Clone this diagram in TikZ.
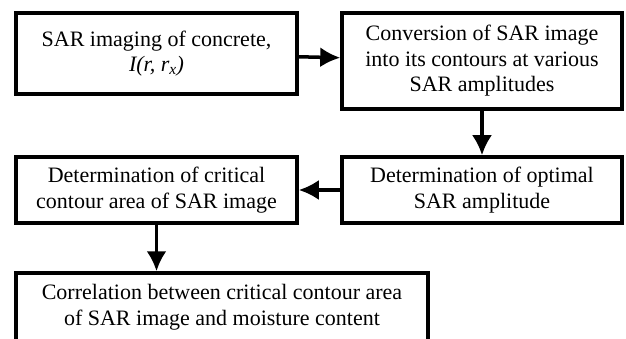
\documentclass[tikz,border=0pt]{standalone}
\usepackage{fontspec}
\setmainfont{Liberation Serif}
\usetikzlibrary{arrows.meta}

\tikzset{
  stagebox/.style={draw, line width=3.5pt, inner sep=0pt, align=center,
    font=\fontsize{22}{25.5}\selectfont},
  flowarrow/.style={-{Latex[length=20pt, width=20pt]}, line width=3.5pt}
}

\begin{document}
\begin{tikzpicture}[x=1pt, y=-1pt, >=Latex]
    \useasboundingbox (0,0) rectangle (626,339);
    % top row
    \node[stagebox, minimum width=281pt, minimum height=81pt] (imaging) at (156.5, 53.5)
      {SAR imaging of concrete,\\ \textit{I(r, r\textsubscript{x})}};
    \node[stagebox, minimum width=280pt, minimum height=96pt] (contours) at (482, 61)
      {Conversion of SAR image\\ into its contours at various\\ SAR amplitudes};
    % middle row
    \node[stagebox, minimum width=280pt, minimum height=66pt] (optimal) at (482, 190)
      {Determination of optimal\\ SAR amplitude};
    \node[stagebox, minimum width=281pt, minimum height=66pt] (critical) at (156.5, 190)
      {Determination of critical\\ contour area of SAR image};
    % bottom
    \node[stagebox, minimum width=412pt, minimum height=68pt] (correlation) at (222, 307)
      {Correlation between critical contour area\\ of SAR image and moisture content};
    \draw[flowarrow] (imaging) -- (contours);
    \draw[flowarrow] (contours) -- (optimal);
    \draw[flowarrow] (optimal) -- (critical);
    \draw[flowarrow] (critical.south) -- (critical.south |- correlation.north);
  \end{tikzpicture}
\end{document}
